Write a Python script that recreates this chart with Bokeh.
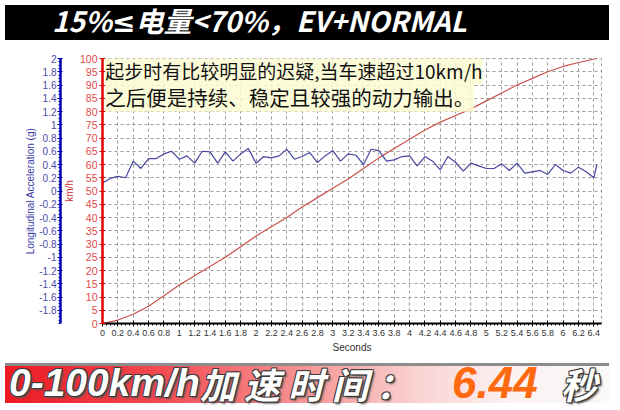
import html
import numpy as np
from bokeh.plotting import figure
from bokeh.models import LinearAxis, Range1d, FixedTicker, Label, CustomJSTickFormatter, Div
from bokeh.layouts import column
from bokeh.embed import file_html
from bokeh.resources import INLINE

# vehicle speed (km/h), every 0.2 s
speed_time = [0, 0.2, 0.4, 0.6, 0.8, 1.0, 1.2, 1.4, 1.6, 1.8, 2.0, 2.2, 2.4, 2.6, 2.8, 3.0,
              3.2, 3.4, 3.6, 3.8, 4.0, 4.2, 4.4, 4.6, 4.8, 5.0, 5.2, 5.4, 5.6, 5.8, 6.0, 6.2, 6.44]
speed_kmh = [0, 1.3, 3.5, 6.5, 10.5, 14.5, 18, 21.5, 25, 29, 33, 36.5, 40, 44, 47.5, 51,
             54.5, 58.5, 62.5, 66, 69.5, 73, 76, 78.5, 81, 84, 87, 90, 92.5, 95, 97, 98.5, 100]

# longitudinal acceleration (g), every 0.1 s
acc_time = [0, 0.1, 0.2, 0.3, 0.4, 0.5, 0.6, 0.7, 0.8, 0.9,
            1.0, 1.1, 1.2, 1.3, 1.4, 1.5, 1.6, 1.7, 1.8, 1.9,
            2.0, 2.1, 2.2, 2.3, 2.4, 2.5, 2.6, 2.7, 2.8, 2.9,
            3.0, 3.1, 3.2, 3.3, 3.4, 3.5, 3.6, 3.7, 3.8, 3.9,
            4.0, 4.1, 4.2, 4.3, 4.4, 4.5, 4.6, 4.7, 4.8, 4.9,
            5.0, 5.1, 5.2, 5.3, 5.4, 5.5, 5.6, 5.7, 5.8, 5.9,
            6.0, 6.1, 6.2, 6.3, 6.4, 6.44]
acc_g = [0.12, 0.19, 0.22, 0.20, 0.45, 0.34, 0.49, 0.49, 0.56, 0.60,
         0.48, 0.53, 0.42, 0.60, 0.59, 0.42, 0.59, 0.45, 0.56, 0.64,
         0.42, 0.52, 0.50, 0.53, 0.63, 0.48, 0.52, 0.58, 0.43, 0.53,
         0.61, 0.45, 0.56, 0.54, 0.40, 0.63, 0.61, 0.45, 0.47, 0.52,
         0.53, 0.38, 0.52, 0.45, 0.32, 0.52, 0.43, 0.30, 0.42, 0.38,
         0.34, 0.34, 0.41, 0.31, 0.42, 0.27, 0.29, 0.31, 0.25, 0.40,
         0.31, 0.27, 0.36, 0.29, 0.20, 0.40]

x_ticks = [0, 0.2, 0.4, 0.6, 0.8, 1, 1.2, 1.4, 1.6, 1.8, 2, 2.2, 2.4, 2.6, 2.8, 3, 3.2,
           3.4, 3.6, 3.8, 4, 4.2, 4.4, 4.6, 4.8, 5, 5.2, 5.4, 5.6, 5.8, 6, 6.2, 6.4]
speed_ticks = [0, 5, 10, 15, 20, 25, 30, 35, 40, 45, 50, 55, 60, 65, 70, 75, 80, 85, 90, 95, 100]
acc_ticks = [-1.8, -1.6, -1.4, -1.2, -1, -0.8, -0.6, -0.4, -0.2, 0, 0.2, 0.4, 0.6, 0.8,
             1, 1.2, 1.4, 1.6, 1.8, 2]

title_parts = ["15%", "≤", "电量<70%，EV+NORMAL"]
note_line1 = "起步时有比较明显的迟疑,当车速超过10km/h"
note_line2 = "之后便是持续、稳定且较强的动力输出。"
result_label = "0-100km/h"
result_label2 = "加速时间："
result_value = "6.44"
result_unit = "秒"

W = 604
cjk = "Noto Sans CJK SC"
latin = "Liberation Sans"
fmt = CustomJSTickFormatter(code="return String(Math.round(tick*10)/10)")

# top black banner
title_html = (html.escape(title_parts[0])
              + '<span style="font-family:\'DejaVu Sans\';">%s</span>' % html.escape(title_parts[1])
              + html.escape(title_parts[2]))
top = Div(width=W, height=35, text=(
    '<div style="position:relative;width:%dpx;height:35px;background:#000;">'
    '<span style="position:absolute;left:47px;top:0px;font-family:\'%s\';font-weight:bold;'
    'font-style:italic;font-size:28px;line-height:30px;color:#fff;white-space:nowrap;">%s</span>'
    '</div>') % (W, cjk, title_html))

# main chart
p = figure(width=W, height=313, x_range=Range1d(0, 6.5), y_range=Range1d(0, 100),
           output_backend="svg", toolbar_location=None,
           min_border_left=102, min_border_right=3, min_border_top=13, min_border_bottom=35,
           outline_line_color="#9a9a9a", outline_line_dash="3 3")
p.extra_y_ranges = {"acc": Range1d(-2, 2)}

p.xaxis.ticker = FixedTicker(ticks=x_ticks, minor_ticks=list(np.arange(0, 6.5, 0.05)))
p.xaxis.formatter = fmt
p.xaxis.axis_label = "Seconds"
p.xaxis.axis_line_color = "black"
p.xaxis.axis_line_width = 2
p.xaxis.major_tick_in = 3
p.xaxis.major_tick_out = 3
p.xaxis.minor_tick_in = 0
p.xaxis.minor_tick_out = 2
p.xaxis.major_label_standoff = 3
p.xaxis.axis_label_standoff = 3
p.xaxis.major_label_text_font = latin
p.xaxis.major_label_text_font_size = "9px"
p.xaxis.major_label_text_color = "#333333"
p.xaxis.axis_label_text_font = latin
p.xaxis.axis_label_text_font_size = "10px"
p.xaxis.axis_label_text_font_style = "normal"
p.xaxis.axis_label_text_color = "#333333"

p.yaxis.ticker = FixedTicker(ticks=speed_ticks)
p.yaxis.axis_label = "km/h"
p.yaxis.axis_line_color = "#e00000"
p.yaxis.axis_line_width = 2.5
p.yaxis.major_tick_line_color = "#e00000"
p.yaxis.major_tick_in = 3
p.yaxis.major_tick_out = 3
p.yaxis.minor_tick_line_color = None
p.yaxis.major_label_standoff = 2
p.yaxis.axis_label_standoff = 2
p.yaxis.major_label_text_font = latin
p.yaxis.major_label_text_font_size = "10.5px"
p.yaxis.major_label_text_color = "#e04848"
p.yaxis.axis_label_text_font = latin
p.yaxis.axis_label_text_font_size = "10px"
p.yaxis.axis_label_text_font_style = "normal"
p.yaxis.axis_label_text_color = "#d03030"

acc_axis = LinearAxis(y_range_name="acc", axis_label="Longitudinal Acceleration (g)",
                      ticker=FixedTicker(ticks=acc_ticks,
                                         minor_ticks=list(np.arange(-2, 2.01, 0.05))),
                      formatter=fmt)
acc_axis.axis_line_color = "#0000b0"
acc_axis.axis_line_width = 2.5
acc_axis.major_tick_line_color = "#0000b0"
acc_axis.minor_tick_line_color = "#0000b0"
acc_axis.major_tick_in = 2
acc_axis.major_tick_out = 3
acc_axis.minor_tick_in = 0
acc_axis.minor_tick_out = 2
acc_axis.major_label_standoff = 1
acc_axis.axis_label_standoff = 0
acc_axis.major_label_text_font = latin
acc_axis.major_label_text_font_size = "10px"
acc_axis.major_label_text_color = "#4a4aa8"
acc_axis.axis_label_text_font = latin
acc_axis.axis_label_text_font_size = "10px"
acc_axis.axis_label_text_font_style = "normal"
acc_axis.axis_label_text_color = "#3a3aa8"
p.add_layout(acc_axis, "left")

p.xgrid.ticker = FixedTicker(ticks=x_ticks)
p.ygrid.ticker = FixedTicker(ticks=speed_ticks)
p.grid.grid_line_color = "#9a9a9a"
p.grid.grid_line_dash = "3 3"
p.grid.grid_line_width = 1

p.line(speed_time, speed_kmh, line_color="#c8504a", line_width=1.2)
p.line(acc_time, acc_g, y_range_name="acc", line_color="#4646a0", line_width=1.2)

for txt, ypos, size in [(note_line1, 95.4, "19px"), (note_line2, 85.6, "20.5px")]:
    p.add_layout(Label(x=0.035, y=ypos, text=txt, text_font=cjk, text_font_size=size,
                       text_baseline="middle", text_color="#111111",
                       background_fill_color="#fbfbd2", background_fill_alpha=0.85))

# bottom red banner
outline = ("text-shadow:-1px -1px 0 #3a3a3a,1px -1px 0 #3a3a3a,-1px 1px 0 #3a3a3a,"
           "1px 1px 0 #3a3a3a,2px 2px 2px #555;")
span = ('<span style="position:absolute;left:%dpx;top:-3px;font-family:\'%s\';font-weight:bold;'
        'font-style:italic;font-size:%dpx;line-height:40px;white-space:nowrap;%s">%s</span>')
bot = Div(width=W, height=40, text=(
    '<div style="position:relative;width:%dpx;height:40px;box-sizing:border-box;'
    'border-top:3px solid #8c8c8c;background:linear-gradient(to right,'
    '#ec1a22 0%%,#f24850 25%%,#f69696 50%%,#fad4d4 69%%,#fcf2f2 84%%,#faf8f8 100%%);">'
    % W
    + span % (4, latin, 39, "color:#fff;" + outline, html.escape(result_label))
    + span % (195, cjk, 36, "color:#fff;letter-spacing:8px;" + outline, html.escape(result_label2))
    + span % (447, latin, 44, "color:#ff6a10;", html.escape(result_value))
    + span % (556, cjk, 36, "color:#fff;" + outline, html.escape(result_unit))
    + '</div>'))

layout = column(top, p, bot)
open("out.html", "w").write(file_html(layout, INLINE))
